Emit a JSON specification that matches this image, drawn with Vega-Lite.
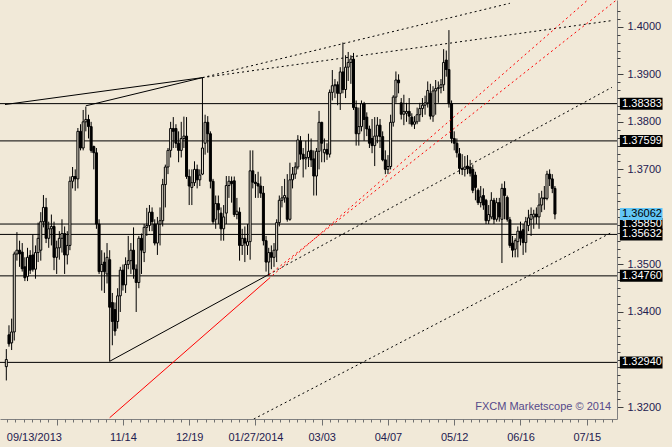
{
"$schema":"https://vega.github.io/schema/vega-lite/v6.json",
"width":617,"height":419,
"autosize":{"type":"none"},
"padding":{"left":0,"top":0,"right":55,"bottom":28},
"background":"#F1E9D8",
"config":{"view":{"stroke":null},"font":"Liberation Sans","axis":{"labelFont":"Liberation Sans","labelFontSize":11,"labelColor":"#1E2050","grid":false}},
"datasets":{
"bars":[
{"i":0,"o":1.3285,"h":1.3322,"l":1.3256,"c":1.3300},
{"i":1,"o":1.3352,"h":1.3372,"l":1.3327,"c":1.3333},
{"i":2,"o":1.3335,"h":1.3386,"l":1.3320,"c":1.3358},
{"i":3,"o":1.3358,"h":1.3527,"l":1.3340,"c":1.3522},
{"i":4,"o":1.3522,"h":1.3568,"l":1.3508,"c":1.3530},
{"i":5,"o":1.3530,"h":1.3550,"l":1.3495,"c":1.3522},
{"i":6,"o":1.3526,"h":1.3545,"l":1.3485,"c":1.3491},
{"i":7,"o":1.3495,"h":1.3515,"l":1.3465,"c":1.3472},
{"i":8,"o":1.3475,"h":1.3535,"l":1.3465,"c":1.3515},
{"i":9,"o":1.3519,"h":1.3530,"l":1.3480,"c":1.3488},
{"i":10,"o":1.3520,"h":1.3563,"l":1.3485,"c":1.3490},
{"i":11,"o":1.3490,"h":1.3540,"l":1.3470,"c":1.3525},
{"i":12,"o":1.3525,"h":1.3588,"l":1.3505,"c":1.3555},
{"i":13,"o":1.3530,"h":1.3610,"l":1.3508,"c":1.3590},
{"i":14,"o":1.3590,"h":1.3646,"l":1.3578,"c":1.3620},
{"i":15,"o":1.3620,"h":1.3640,"l":1.3545,"c":1.3555},
{"i":16,"o":1.3555,"h":1.3590,"l":1.3535,"c":1.3575},
{"i":17,"o":1.3575,"h":1.3605,"l":1.3540,"c":1.3580},
{"i":18,"o":1.3580,"h":1.3590,"l":1.3488,"c":1.3515},
{"i":19,"o":1.3515,"h":1.3550,"l":1.3480,"c":1.3535},
{"i":20,"o":1.3535,"h":1.3570,"l":1.3510,"c":1.3555},
{"i":21,"o":1.3555,"h":1.3595,"l":1.3525,"c":1.3565},
{"i":22,"o":1.3565,"h":1.3580,"l":1.3480,"c":1.3520},
{"i":23,"o":1.3520,"h":1.3570,"l":1.3500,"c":1.3540},
{"i":24,"o":1.3540,"h":1.3685,"l":1.3530,"c":1.3675},
{"i":25,"o":1.3675,"h":1.3705,"l":1.3660,"c":1.3685},
{"i":26,"o":1.3685,"h":1.3700,"l":1.3655,"c":1.3680},
{"i":27,"o":1.3680,"h":1.3787,"l":1.3660,"c":1.3780},
{"i":28,"o":1.3780,"h":1.3795,"l":1.3740,"c":1.3745},
{"i":29,"o":1.3745,"h":1.3825,"l":1.3740,"c":1.3800},
{"i":30,"o":1.3800,"h":1.3832,"l":1.3780,"c":1.3805},
{"i":31,"o":1.3805,"h":1.3815,"l":1.3765,"c":1.3790},
{"i":32,"o":1.3790,"h":1.3800,"l":1.3735,"c":1.3740},
{"i":33,"o":1.3748,"h":1.3750,"l":1.3700,"c":1.3735},
{"i":34,"o":1.3735,"h":1.3745,"l":1.3575,"c":1.3585},
{"i":35,"o":1.3585,"h":1.3595,"l":1.3480,"c":1.3485},
{"i":36,"o":1.3485,"h":1.3530,"l":1.3445,"c":1.3500},
{"i":37,"o":1.3505,"h":1.3525,"l":1.3440,"c":1.3485},
{"i":38,"o":1.3480,"h":1.3545,"l":1.3460,"c":1.3515},
{"i":39,"o":1.3510,"h":1.3530,"l":1.3296,"c":1.3410},
{"i":40,"o":1.3420,"h":1.3440,"l":1.3330,"c":1.3380},
{"i":41,"o":1.3405,"h":1.3420,"l":1.3350,"c":1.3360},
{"i":42,"o":1.3380,"h":1.3450,"l":1.3365,"c":1.3434},
{"i":43,"o":1.3434,"h":1.3495,"l":1.3400,"c":1.3488},
{"i":44,"o":1.3488,"h":1.3500,"l":1.3445,"c":1.3457},
{"i":45,"o":1.3457,"h":1.3515,"l":1.3440,"c":1.3500},
{"i":46,"o":1.3500,"h":1.3560,"l":1.3490,"c":1.3508},
{"i":47,"o":1.3508,"h":1.3545,"l":1.3480,"c":1.3530},
{"i":48,"o":1.3530,"h":1.3578,"l":1.3470,"c":1.3490},
{"i":49,"o":1.3490,"h":1.3500,"l":1.3400,"c":1.3462},
{"i":50,"o":1.3462,"h":1.3560,"l":1.3450,"c":1.3555},
{"i":51,"o":1.3555,"h":1.3565,"l":1.3480,"c":1.3530},
{"i":52,"o":1.3525,"h":1.3585,"l":1.3505,"c":1.3578},
{"i":53,"o":1.3578,"h":1.3619,"l":1.3560,"c":1.3582},
{"i":54,"o":1.3582,"h":1.3625,"l":1.3570,"c":1.3610},
{"i":55,"o":1.3610,"h":1.3620,"l":1.3570,"c":1.3590},
{"i":56,"o":1.3585,"h":1.3595,"l":1.3540,"c":1.3545},
{"i":57,"o":1.3545,"h":1.3600,"l":1.3520,"c":1.3585},
{"i":58,"o":1.3585,"h":1.3620,"l":1.3540,"c":1.3592},
{"i":59,"o":1.3592,"h":1.3680,"l":1.3580,"c":1.3668},
{"i":60,"o":1.3668,"h":1.3710,"l":1.3620,"c":1.3705},
{"i":61,"o":1.3705,"h":1.3745,"l":1.3690,"c":1.3740},
{"i":62,"o":1.3740,"h":1.3800,"l":1.3725,"c":1.3786},
{"i":63,"o":1.3786,"h":1.3810,"l":1.3745,"c":1.3780},
{"i":64,"o":1.3786,"h":1.3795,"l":1.3745,"c":1.3755},
{"i":65,"o":1.3755,"h":1.3780,"l":1.3715,"c":1.3740},
{"i":66,"o":1.3740,"h":1.3800,"l":1.3725,"c":1.3765},
{"i":67,"o":1.3765,"h":1.3811,"l":1.3745,"c":1.3770},
{"i":68,"o":1.3770,"h":1.3810,"l":1.3680,"c":1.3685},
{"i":69,"o":1.3685,"h":1.3700,"l":1.3625,"c":1.3665},
{"i":70,"o":1.3662,"h":1.3700,"l":1.3625,"c":1.3672},
{"i":71,"o":1.3672,"h":1.3717,"l":1.3665,"c":1.3700},
{"i":72,"o":1.3700,"h":1.3710,"l":1.3660,"c":1.3678},
{"i":73,"o":1.3678,"h":1.3700,"l":1.3665,"c":1.3688},
{"i":74,"o":1.3690,"h":1.3893,"l":1.3688,"c":1.3745},
{"i":75,"o":1.3755,"h":1.3815,"l":1.3731,"c":1.3799},
{"i":76,"o":1.3799,"h":1.3812,"l":1.3735,"c":1.3775},
{"i":77,"o":1.3775,"h":1.3780,"l":1.3660,"c":1.3675},
{"i":78,"o":1.3675,"h":1.3680,"l":1.3585,"c":1.3590},
{"i":79,"o":1.3595,"h":1.3645,"l":1.3575,"c":1.3628},
{"i":80,"o":1.3628,"h":1.3645,"l":1.3585,"c":1.3615},
{"i":81,"o":1.3608,"h":1.3620,"l":1.3550,"c":1.3575},
{"i":82,"o":1.3575,"h":1.3625,"l":1.3550,"c":1.3600},
{"i":83,"o":1.3608,"h":1.3686,"l":1.3585,"c":1.3666},
{"i":84,"o":1.3666,"h":1.3686,"l":1.3640,"c":1.3675},
{"i":85,"o":1.3675,"h":1.3685,"l":1.3630,"c":1.3670},
{"i":86,"o":1.3676,"h":1.3685,"l":1.3600,"c":1.3605},
{"i":87,"o":1.3605,"h":1.3640,"l":1.3595,"c":1.3612},
{"i":88,"o":1.3610,"h":1.3620,"l":1.3508,"c":1.3540},
{"i":89,"o":1.3540,"h":1.3575,"l":1.3520,"c":1.3555},
{"i":90,"o":1.3555,"h":1.3580,"l":1.3505,"c":1.3545},
{"i":91,"o":1.3540,"h":1.3585,"l":1.3520,"c":1.3548},
{"i":92,"o":1.3548,"h":1.3740,"l":1.3510,"c":1.3697},
{"i":93,"o":1.3697,"h":1.3740,"l":1.3660,"c":1.3673},
{"i":94,"o":1.3673,"h":1.3690,"l":1.3640,"c":1.3670},
{"i":95,"o":1.3670,"h":1.3695,"l":1.3640,"c":1.3665},
{"i":96,"o":1.3665,"h":1.3685,"l":1.3640,"c":1.3650},
{"i":97,"o":1.3650,"h":1.3665,"l":1.3540,"c":1.3550},
{"i":98,"o":1.3550,"h":1.3560,"l":1.3485,"c":1.3505},
{"i":99,"o":1.3505,"h":1.3535,"l":1.3477,"c":1.3525},
{"i":100,"o":1.3525,"h":1.3540,"l":1.3490,"c":1.3515},
{"i":101,"o":1.3515,"h":1.3545,"l":1.3495,"c":1.3530},
{"i":102,"o":1.3530,"h":1.3595,"l":1.3505,"c":1.3588},
{"i":103,"o":1.3588,"h":1.3645,"l":1.3580,"c":1.3635},
{"i":104,"o":1.3635,"h":1.3665,"l":1.3620,"c":1.3640},
{"i":105,"o":1.3640,"h":1.3680,"l":1.3630,"c":1.3645},
{"i":106,"o":1.3640,"h":1.3690,"l":1.3590,"c":1.3595},
{"i":107,"o":1.3595,"h":1.3714,"l":1.3592,"c":1.3678},
{"i":108,"o":1.3678,"h":1.3705,"l":1.3660,"c":1.3690},
{"i":109,"o":1.3690,"h":1.3715,"l":1.3680,"c":1.3705},
{"i":110,"o":1.3705,"h":1.3772,"l":1.3700,"c":1.3762},
{"i":111,"o":1.3760,"h":1.3770,"l":1.3720,"c":1.3732},
{"i":112,"o":1.3732,"h":1.3745,"l":1.3683,"c":1.3722},
{"i":113,"o":1.3722,"h":1.3760,"l":1.3700,"c":1.3725},
{"i":114,"o":1.3725,"h":1.3775,"l":1.3705,"c":1.3738},
{"i":115,"o":1.3740,"h":1.3765,"l":1.3705,"c":1.3720},
{"i":116,"o":1.3722,"h":1.3740,"l":1.3645,"c":1.3686},
{"i":117,"o":1.3686,"h":1.3745,"l":1.3645,"c":1.3738},
{"i":118,"o":1.3738,"h":1.3823,"l":1.3700,"c":1.3799},
{"i":119,"o":1.3799,"h":1.3800,"l":1.3715,"c":1.3755},
{"i":120,"o":1.3735,"h":1.3765,"l":1.3715,"c":1.3742},
{"i":121,"o":1.3742,"h":1.3755,"l":1.3720,"c":1.3732},
{"i":122,"o":1.3732,"h":1.3868,"l":1.3725,"c":1.3862},
{"i":123,"o":1.3862,"h":1.3909,"l":1.3845,"c":1.3876},
{"i":124,"o":1.3876,"h":1.3890,"l":1.3850,"c":1.3878},
{"i":125,"o":1.3878,"h":1.3885,"l":1.3835,"c":1.3860},
{"i":126,"o":1.3860,"h":1.3915,"l":1.3825,"c":1.3905},
{"i":127,"o":1.3905,"h":1.3967,"l":1.3860,"c":1.3868},
{"i":128,"o":1.3868,"h":1.3940,"l":1.3850,"c":1.3915},
{"i":129,"o":1.3915,"h":1.3947,"l":1.3886,"c":1.3925},
{"i":130,"o":1.3925,"h":1.3940,"l":1.3880,"c":1.3932},
{"i":131,"o":1.3932,"h":1.3945,"l":1.3825,"c":1.3830},
{"i":132,"o":1.3830,"h":1.3845,"l":1.3750,"c":1.3775},
{"i":133,"o":1.3775,"h":1.3830,"l":1.3750,"c":1.3790},
{"i":134,"o":1.3790,"h":1.3845,"l":1.3780,"c":1.3838},
{"i":135,"o":1.3838,"h":1.3842,"l":1.3760,"c":1.3805},
{"i":136,"o":1.3810,"h":1.3820,"l":1.3770,"c":1.3785},
{"i":137,"o":1.3785,"h":1.3792,"l":1.3745,"c":1.3755},
{"i":138,"o":1.3765,"h":1.3806,"l":1.3734,"c":1.3750},
{"i":139,"o":1.3750,"h":1.3810,"l":1.3707,"c":1.3770},
{"i":140,"o":1.3770,"h":1.3810,"l":1.3755,"c":1.3793},
{"i":141,"o":1.3793,"h":1.3806,"l":1.3745,"c":1.3769},
{"i":142,"o":1.3769,"h":1.3780,"l":1.3717,"c":1.3720},
{"i":143,"o":1.3720,"h":1.3740,"l":1.3690,"c":1.3700},
{"i":144,"o":1.3700,"h":1.3730,"l":1.3690,"c":1.3706},
{"i":145,"o":1.3706,"h":1.3815,"l":1.3700,"c":1.3799},
{"i":146,"o":1.3799,"h":1.3856,"l":1.3790,"c":1.3852},
{"i":147,"o":1.3852,"h":1.3906,"l":1.3840,"c":1.3888},
{"i":148,"o":1.3888,"h":1.3900,"l":1.3860,"c":1.3882},
{"i":149,"o":1.3840,"h":1.3850,"l":1.3805,"c":1.3816},
{"i":150,"o":1.3816,"h":1.3857,"l":1.3793,"c":1.3822},
{"i":151,"o":1.3818,"h":1.3840,"l":1.3800,"c":1.3822},
{"i":152,"o":1.3822,"h":1.3850,"l":1.3795,"c":1.3812},
{"i":153,"o":1.3810,"h":1.3818,"l":1.3790,"c":1.3795},
{"i":154,"o":1.3795,"h":1.3812,"l":1.3785,"c":1.3800},
{"i":155,"o":1.3800,"h":1.3830,"l":1.3795,"c":1.3815},
{"i":156,"o":1.3815,"h":1.3840,"l":1.3800,"c":1.3828},
{"i":157,"o":1.3828,"h":1.3850,"l":1.3810,"c":1.3835},
{"i":158,"o":1.3835,"h":1.3855,"l":1.3815,"c":1.3840},
{"i":159,"o":1.3840,"h":1.3885,"l":1.3830,"c":1.3866},
{"i":160,"o":1.3860,"h":1.3880,"l":1.3805,"c":1.3812},
{"i":161,"o":1.3812,"h":1.3875,"l":1.3800,"c":1.3865},
{"i":162,"o":1.3865,"h":1.3888,"l":1.3815,"c":1.3870},
{"i":163,"o":1.3870,"h":1.3885,"l":1.3840,"c":1.3872},
{"i":164,"o":1.3872,"h":1.3890,"l":1.3860,"c":1.3878},
{"i":165,"o":1.3878,"h":1.3953,"l":1.3865,"c":1.3925},
{"i":166,"o":1.3930,"h":1.3950,"l":1.3895,"c":1.3910},
{"i":167,"o":1.3910,"h":1.3993,"l":1.3830,"c":1.3838},
{"i":168,"o":1.3838,"h":1.3845,"l":1.3755,"c":1.3765},
{"i":169,"o":1.3765,"h":1.3780,"l":1.3740,"c":1.3755},
{"i":170,"o":1.3755,"h":1.3765,"l":1.3725,"c":1.3735},
{"i":171,"o":1.3733,"h":1.3745,"l":1.3690,"c":1.3702},
{"i":172,"o":1.3702,"h":1.3732,"l":1.3688,"c":1.3700},
{"i":173,"o":1.3700,"h":1.3728,"l":1.3685,"c":1.3705},
{"i":174,"o":1.3707,"h":1.3730,"l":1.3690,"c":1.3701},
{"i":175,"o":1.3705,"h":1.3720,"l":1.3685,"c":1.3692},
{"i":176,"o":1.3700,"h":1.3710,"l":1.3650,"c":1.3656},
{"i":177,"o":1.3688,"h":1.3695,"l":1.3635,"c":1.3662},
{"i":178,"o":1.3656,"h":1.3660,"l":1.3625,"c":1.3630},
{"i":179,"o":1.3630,"h":1.3665,"l":1.3620,"c":1.3642},
{"i":180,"o":1.3645,"h":1.3660,"l":1.3615,"c":1.3625},
{"i":181,"o":1.3635,"h":1.3638,"l":1.3585,"c":1.3592},
{"i":182,"o":1.3592,"h":1.3625,"l":1.3585,"c":1.3605},
{"i":183,"o":1.3600,"h":1.3652,"l":1.3595,"c":1.3635},
{"i":184,"o":1.3635,"h":1.3640,"l":1.3585,"c":1.3595},
{"i":185,"o":1.3595,"h":1.3640,"l":1.3590,"c":1.3630},
{"i":186,"o":1.3630,"h":1.3640,"l":1.3590,"c":1.3600},
{"i":187,"o":1.3595,"h":1.3670,"l":1.3503,"c":1.3660},
{"i":188,"o":1.3660,"h":1.3675,"l":1.3595,"c":1.3645},
{"i":189,"o":1.3641,"h":1.3645,"l":1.3590,"c":1.3595},
{"i":190,"o":1.3594,"h":1.3600,"l":1.3535,"c":1.3540},
{"i":191,"o":1.3545,"h":1.3560,"l":1.3515,"c":1.3530},
{"i":192,"o":1.3532,"h":1.3555,"l":1.3515,"c":1.3550},
{"i":193,"o":1.3548,"h":1.3580,"l":1.3515,"c":1.3570},
{"i":194,"o":1.3570,"h":1.3590,"l":1.3540,"c":1.3555},
{"i":195,"o":1.3573,"h":1.3585,"l":1.3520,"c":1.3546},
{"i":196,"o":1.3546,"h":1.3600,"l":1.3525,"c":1.3590},
{"i":197,"o":1.3582,"h":1.3615,"l":1.3570,"c":1.3598},
{"i":198,"o":1.3595,"h":1.3620,"l":1.3560,"c":1.3605},
{"i":199,"o":1.3600,"h":1.3615,"l":1.3575,"c":1.3606},
{"i":200,"o":1.3606,"h":1.3620,"l":1.3585,"c":1.3600},
{"i":201,"o":1.3600,"h":1.3650,"l":1.3575,"c":1.3625},
{"i":202,"o":1.3625,"h":1.3655,"l":1.3610,"c":1.3640},
{"i":203,"o":1.3640,"h":1.3665,"l":1.3615,"c":1.3638},
{"i":204,"o":1.3639,"h":1.3697,"l":1.3635,"c":1.3690},
{"i":205,"o":1.3690,"h":1.3700,"l":1.3665,"c":1.3680},
{"i":206,"o":1.3680,"h":1.3690,"l":1.3650,"c":1.3660},
{"i":207,"o":1.3660,"h":1.3665,"l":1.3595,"c":1.3606}
],
"levels":[{"p":1.38383},{"p":1.37599},{"p":1.3585},{"p":1.35632},{"p":1.3476},{"p":1.3294}],
"last":[{"p":1.36062}],
"blackSolid":[
{"id":"A","i":-0.5,"p":1.38364},{"id":"A","i":74,"p":1.3893},
{"id":"B","i":30,"p":1.38337},{"id":"B","i":74,"p":1.3893},
{"id":"C","i":39,"p":1.32963},{"id":"C","i":99,"p":1.34788}],
"blackDot":[
{"id":"A","i":74,"p":1.3893},{"id":"A","i":228.5,"p":1.4013},
{"id":"B","i":74,"p":1.3893},{"id":"B","i":190,"p":1.40494},
{"id":"C","i":99,"p":1.34788},{"id":"C","i":228.5,"p":1.38726},
{"id":"D","i":90,"p":1.3165},{"id":"D","i":228.5,"p":1.35676}],
"redSolid":[{"id":"E","i":39,"p":1.31776},{"id":"E","i":99,"p":1.34699}],
"redDash":[
{"id":"E","i":99,"p":1.34699},{"id":"E","i":220,"p":1.40594},
{"id":"F","i":99,"p":1.34776},{"id":"F","i":230,"p":1.40553}],
"note":[{"t":"FXCM Marketscope © 2014","i":228.2,"p":1.31936}]
},
"layer":[
{"data":{"name":"levels"},
 "mark":{"type":"rule","color":"#000000","strokeWidth":1},
 "encoding":{
  "y":{"field":"p","type":"quantitative","scale":{"domain":[1.31854,1.40458],"nice":false,"zero":false},
   "axis":{"orient":"right","title":null,"values":[1.32,1.33,1.34,1.35,1.36,1.37,1.38,1.39,1.40],
    "labelExpr":"(abs(datum.value-1.33)<0.0005 || abs(datum.value-1.36)<0.0005) ? '' : format(datum.value,'.4f')",
    "tickSize":6,"tickColor":"#404040","labelPadding":4,"domain":true,"domainColor":"#808080","labelAlign":"left","labelBaseline":"middle"}}}},
{"data":{"name":"bars"},
 "mark":{"type":"rule","color":"#000000","strokeWidth":1,"clip":true},
 "encoding":{
  "x":{"field":"i","type":"quantitative","scale":{"domain":[-0.5,228.53],"nice":false,"zero":false},
   "axis":{"orient":"bottom","title":null,"values":[0,44,69,94,119,144,169,194,219],
    "labelExpr":"datum.value==0?'09/13/2013':datum.value==44?'11/14':datum.value==69?'12/19':datum.value==94?'01/27/2014':datum.value==119?'03/03':datum.value==144?'04/07':datum.value==169?'05/12':datum.value==194?'06/16':datum.value==219?'07/15':''",
    "labelAlign":{"condition":{"test":"datum.value==0","value":"left"},"value":"center"},
    "ticks":false,"tickSize":0,"labelPadding":12,"domain":true,"domainColor":"#808080","labelFlush":false,"labelOverlap":false,"labelBound":false}},
  "y":{"field":"l","type":"quantitative","scale":{"domain":[1.31854,1.40458],"nice":false,"zero":false},
   "axis":{"orient":"right","title":null,"values":[1.32167,1.32333,1.325,1.32667,1.32833,1.33167,1.33333,1.335,1.33667,1.33833,1.34167,1.34333,1.345,1.34667,1.34833,1.35167,1.35333,1.355,1.35667,1.35833,1.36167,1.36333,1.365,1.36667,1.36833,1.37167,1.37333,1.375,1.37667,1.37833,1.38167,1.38333,1.385,1.38667,1.38833,1.39167,1.39333,1.395,1.39667,1.39833,1.40167,1.40333],
    "labels":false,"domain":false,"tickSize":3,"tickColor":"#404040"}},
  "y2":{"field":"h"}}},
{"data":{"name":"bars"},
 "mark":{"type":"bar","size":2,"stroke":"#000000","strokeWidth":1,"clip":true},
 "encoding":{
  "x":{"field":"i","type":"quantitative","scale":{"domain":[-0.5,228.53],"nice":false,"zero":false},
   "axis":{"orient":"bottom","title":null,"values":[19,44,69,94,119,144,169,194,219],"labels":false,"domain":false,"tickSize":6,"tickColor":"#707070"}},
  "y":{"field":"o","type":"quantitative","scale":{"domain":[1.31854,1.40458],"nice":false,"zero":false},"axis":null},
  "y2":{"field":"c"},
  "fill":{"condition":{"test":"datum.c < datum.o","value":"#000000"},"value":"#F1E9D8"}}},
{"data":{"name":"blackSolid"},
 "mark":{"type":"line","color":"#000000","strokeWidth":1,"clip":true},
 "encoding":{
  "x":{"field":"i","type":"quantitative","scale":{"domain":[-0.5,228.53],"nice":false,"zero":false},
   "axis":{"orient":"bottom","title":null,"values":[0.25,3.375,6.5,9.625,12.75,15.875,22.125,25.25,28.375,31.5,34.625,37.75,40.875,47.125,50.25,53.375,56.5,59.625,62.75,65.875,72.125,75.25,78.375,81.5,84.625,87.75,90.875,97.125,100.25,103.375,106.5,109.625,112.75,115.875,122.125,125.25,128.375,131.5,134.625,137.75,140.875,147.125,150.25,153.375,156.5,159.625,162.75,165.875,172.125,175.25,178.375,181.5,184.625,187.75,190.875,197.125,200.25,203.375,206.5,209.625,212.75,215.875,222.125,225.25,228.375],"labels":false,"domain":false,"tickSize":3,"tickColor":"#707070"}},
  "y":{"field":"p","type":"quantitative","scale":{"domain":[1.31854,1.40458],"nice":false,"zero":false},"axis":null},
  "detail":{"field":"id"}}},
{"data":{"name":"blackDot"},
 "mark":{"type":"line","color":"#000000","strokeWidth":1,"strokeDash":[2,3],"clip":true},
 "encoding":{
  "x":{"field":"i","type":"quantitative","scale":{"domain":[-0.5,228.53],"nice":false,"zero":false},"axis":null},
  "y":{"field":"p","type":"quantitative","scale":{"domain":[1.31854,1.40458],"nice":false,"zero":false},"axis":null},
  "detail":{"field":"id"}}},
{"data":{"name":"redSolid"},
 "mark":{"type":"line","color":"#FF0000","strokeWidth":1,"clip":true},
 "encoding":{
  "x":{"field":"i","type":"quantitative","scale":{"domain":[-0.5,228.53],"nice":false,"zero":false},"axis":null},
  "y":{"field":"p","type":"quantitative","scale":{"domain":[1.31854,1.40458],"nice":false,"zero":false},"axis":null},
  "detail":{"field":"id"}}},
{"data":{"name":"redDash"},
 "mark":{"type":"line","color":"#FF0000","strokeWidth":1,"strokeDash":[2,3],"clip":true},
 "encoding":{
  "x":{"field":"i","type":"quantitative","scale":{"domain":[-0.5,228.53],"nice":false,"zero":false},"axis":null},
  "y":{"field":"p","type":"quantitative","scale":{"domain":[1.31854,1.40458],"nice":false,"zero":false},"axis":null},
  "detail":{"field":"id"}}},
{"data":{"name":"levels"},
 "mark":{"type":"bar","size":12,"color":"#000000"},
 "encoding":{
  "x":{"datum":231.5,"type":"quantitative","scale":{"domain":[-0.5,228.53],"nice":false,"zero":false},"axis":null},
  "x2":{"datum":247.6},
  "y":{"field":"p","type":"quantitative","scale":{"domain":[1.31854,1.40458],"nice":false,"zero":false},"axis":null}}},
{"data":{"name":"levels"},
 "mark":{"type":"text","align":"left","baseline":"middle","color":"#FFFFFF","font":"Liberation Sans","fontSize":11},
 "encoding":{
  "x":{"datum":232.35,"type":"quantitative","scale":{"domain":[-0.5,228.53],"nice":false,"zero":false},"axis":null},
  "y":{"field":"p","type":"quantitative","scale":{"domain":[1.31854,1.40458],"nice":false,"zero":false},"axis":null},
  "text":{"field":"p","type":"quantitative","format":".5f"}}},
{"data":{"name":"last"},
 "mark":{"type":"bar","size":12,"color":"#63C6F5"},
 "encoding":{
  "x":{"datum":231.5,"type":"quantitative","scale":{"domain":[-0.5,228.53],"nice":false,"zero":false},"axis":null},
  "x2":{"datum":247.6},
  "y":{"field":"p","type":"quantitative","scale":{"domain":[1.31854,1.40458],"nice":false,"zero":false},"axis":null}}},
{"data":{"name":"last"},
 "mark":{"type":"text","align":"left","baseline":"middle","color":"#000000","font":"Liberation Sans","fontSize":11},
 "encoding":{
  "x":{"datum":232.35,"type":"quantitative","scale":{"domain":[-0.5,228.53],"nice":false,"zero":false},"axis":null},
  "y":{"field":"p","type":"quantitative","scale":{"domain":[1.31854,1.40458],"nice":false,"zero":false},"axis":null},
  "text":{"field":"p","type":"quantitative","format":".5f"}}},
{"data":{"name":"note"},
 "mark":{"type":"text","align":"right","baseline":"alphabetic","color":"#56498A","font":"Liberation Sans","fontSize":11},
 "encoding":{
  "x":{"field":"i","type":"quantitative","scale":{"domain":[-0.5,228.53],"nice":false,"zero":false},"axis":null},
  "y":{"field":"p","type":"quantitative","scale":{"domain":[1.31854,1.40458],"nice":false,"zero":false},"axis":null},
  "text":{"field":"t"}}}
],
"resolve":{"axis":{"x":"independent","y":"independent"}}
}
